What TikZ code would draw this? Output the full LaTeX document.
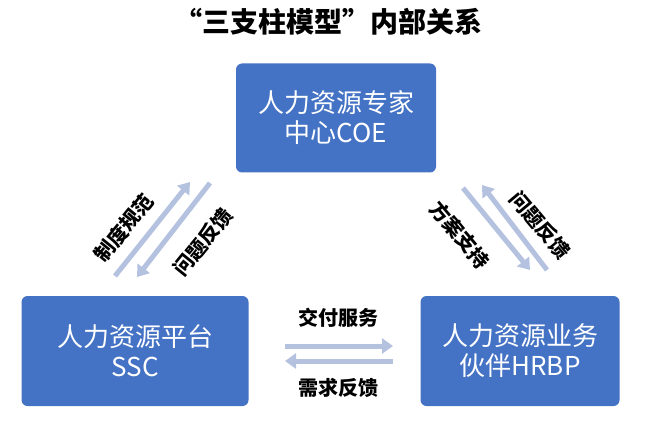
\documentclass[tikz,border=0pt]{standalone}
\usepackage{fontspec}
\usetikzlibrary{arrows.meta}
\setmainfont{Noto Sans CJK SC}
\begin{document}
\begin{tikzpicture}[x=1pt,y=-1pt,
  box/.style={fill=boxblue,rounded corners=6pt,text=white,align=center,font=\fontsize{26}{30}\selectfont,inner sep=0pt},
  arr/.style={draw=arrblue,line width=5pt,-{Triangle[length=11pt,width=15pt]}},
  lab/.style={font=\bfseries\fontsize{20}{22}\selectfont,inner sep=1pt}]
\definecolor{boxblue}{HTML}{4472C4}
\definecolor{arrblue}{HTML}{B4C2E0}
\useasboundingbox (0,0) rectangle (655,422);
\node[font=\bfseries\fontsize{28}{30}\selectfont] (t) at (328,22) {“三支柱模型”内部关系};
\node[box,minimum width=200pt,minimum height=109pt] (coe) at (336,118) {人力资源专家\\中心COE};
\node[box,minimum width=227pt,minimum height=110pt] (ssc) at (135,351) {人力资源平台\\SSC};
\node[box,minimum width=199pt,minimum height=110pt] (hr) at (520,351) {人力资源业务\\伙伴HRBP};
\coordinate (a1) at (115,276); \coordinate (a2) at (190,182);
\coordinate (b1) at (210,183); \coordinate (b2) at (137,277);
\coordinate (c1) at (463,188); \coordinate (c2) at (530,270);
\coordinate (d1) at (547,270); \coordinate (d2) at (482,185);
\coordinate (e1) at (285,346); \coordinate (e2) at (393,346);
\coordinate (f1) at (393,361); \coordinate (f2) at (285,361);
\draw[arr] (a1) -- (a2);
\draw[arr] (b1) -- (b2);
\draw[arr] (c1) -- (c2);
\draw[arr] (d1) -- (d2);
\draw[arr] (e1) -- (e2);
\draw[arr] (f1) -- (f2);
\node[lab,rotate=51] (l1) at (124,228) {制度规范};
\node[lab,rotate=51] (l2) at (203,242) {问题反馈};
\node[lab,rotate=-50] (l3) at (460,235) {方案支持};
\node[lab,rotate=-50] (l4) at (540,225) {问题反馈};
\node[lab] (l5) at (338,318) {交付服务};
\node[lab] (l6) at (338,388) {需求反馈};
\end{tikzpicture}
\end{document}
